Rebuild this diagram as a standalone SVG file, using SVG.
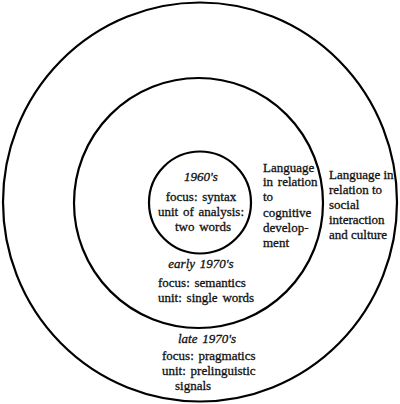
<svg xmlns="http://www.w3.org/2000/svg" width="400" height="404" viewBox="0 0 400 404">
<style>
.ring{fill:none;stroke:#000;stroke-width:2.2}
text{font-family:"Liberation Serif","Times New Roman",serif;font-size:13px;fill:#111;stroke:#111;stroke-width:0.3;word-spacing:1.5px}
.it{font-style:italic}
.c{text-anchor:middle}
.r{word-spacing:0}
</style>
<rect width="400" height="404" fill="#fff"/>
<g id="outer">
<ellipse class="ring" cx="200" cy="202" rx="197" ry="199.5"/>
<text class="r" x="329" y="179">Language in</text>
<text class="r" x="329" y="194">relation to</text>
<text class="r" x="329" y="209">social</text>
<text class="r" x="329" y="224">interaction</text>
<text class="r" x="329" y="239">and culture</text>
<text class="it c" x="207" y="343">late 1970's</text>
<text x="162" y="360">focus: pragmatics</text>
<text x="162" y="375">unit: prelinguistic</text>
<text x="175" y="390">signals</text>
</g>
<g id="middle">
<ellipse class="ring" cx="198.5" cy="203" rx="124.5" ry="125"/>
<text x="263" y="172">Language</text>
<text x="263" y="186">in relation</text>
<text x="263" y="201">to</text>
<text x="263" y="217">cognitive</text>
<text x="263" y="232">develop-</text>
<text x="263" y="247">ment</text>
<text class="it c" x="201" y="268">early 1970's</text>
<text x="158" y="287">focus: semantics</text>
<text x="158" y="302">unit: single words</text>
</g>
<g id="inner">
<circle class="ring" cx="200" cy="202.5" r="51"/>
<text class="it c" x="201" y="181">1960's</text>
<text class="c" x="201" y="201">focus: syntax</text>
<text class="c" x="201" y="216">unit of analysis:</text>
<text class="c" x="203" y="231">two words</text>
</g>
</svg>
